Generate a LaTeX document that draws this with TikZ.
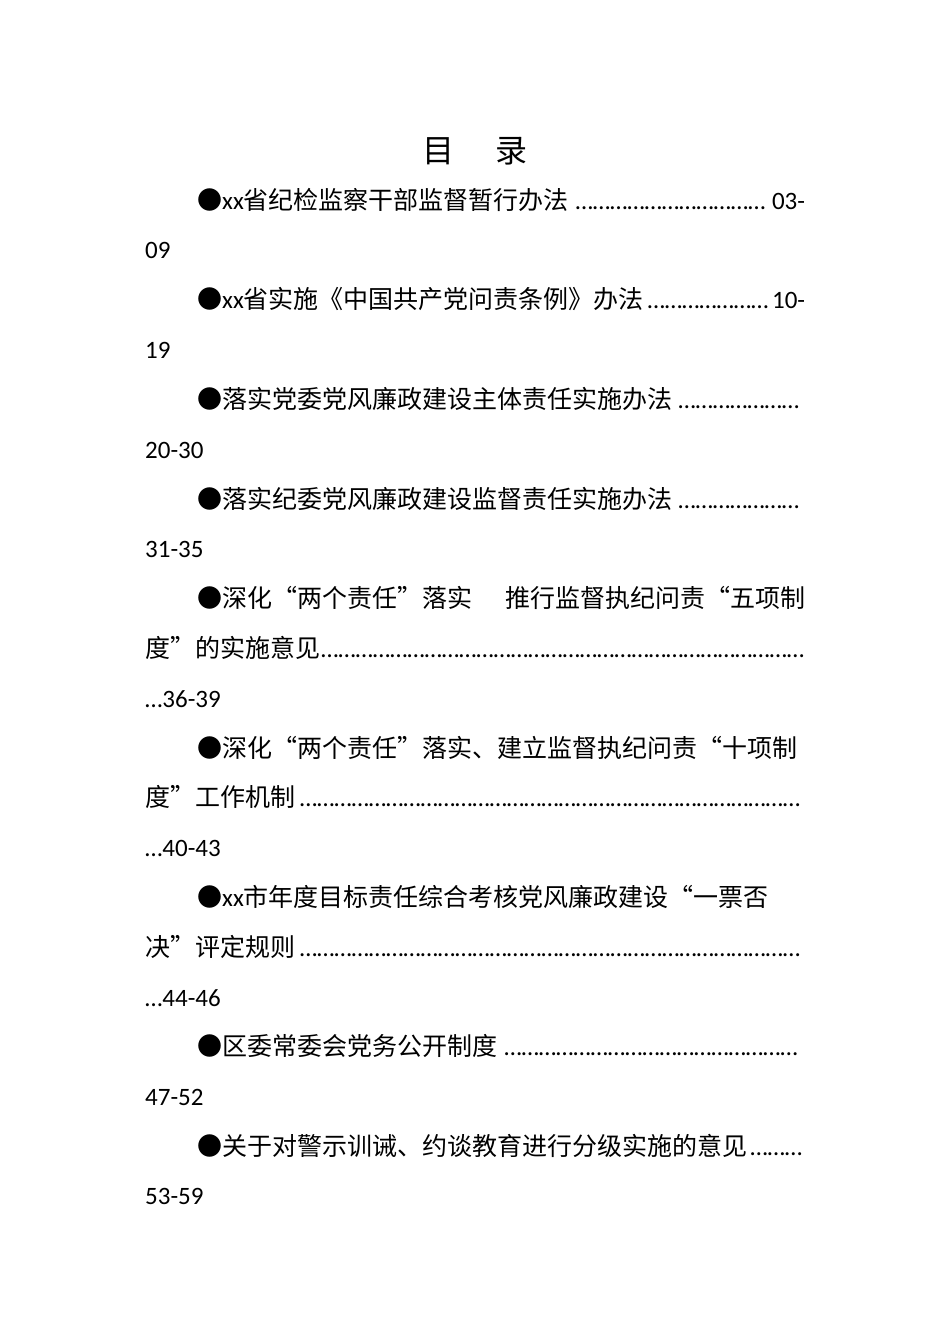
\documentclass[tikz,border=0pt]{standalone}
\usepackage{fontspec}
\setmainfont{Noto Sans CJK SC}
\newfontfamily\lat{Carlito}
\newcommand{\La}[1]{{\lat #1}}
\newcommand{\dts}{\cleaders\hbox{\lat …}\hfill}
\begin{document}
\begin{tikzpicture}[x=1pt,y=-1pt,
  ln/.style={anchor=base west,inner sep=0pt,font=\fontsize{25}{25}\selectfont}]
\useasboundingbox (0,0) rectangle (950,1344);
\fill[white] (0,0) rectangle (950,1344);
\node[anchor=base,inner sep=0pt,font=\fontsize{32}{32}\selectfont] (t) at (475,162) {目\hspace{1.3em}录};
\def\W{608pt}
\def\WW{660pt}
\node[ln] (a1) at (197,209) {\hbox to \W{●\La{xx}省纪检监察干部监督暂行办法\dts\La{03-}}};
\node[ln] (a2) at (145,258) {\La{09}};
\node[ln] (b1) at (197,308) {\hbox to \W{●\La{xx}省实施《中国共产党问责条例》办法\dts\La{10-}}};
\node[ln] (b2) at (145,358) {\La{19}};
\node[ln] (c1) at (197,408) {\hbox to \W{●落实党委党风廉政建设主体责任实施办法\dts}};
\node[ln] (c2) at (145,458) {\La{20-30}};
\node[ln] (d1) at (197,508) {\hbox to \W{●落实纪委党风廉政建设监督责任实施办法\dts}};
\node[ln] (d2) at (145,557) {\La{31-35}};
\node[ln] (e1) at (197,607) {\hbox to \W{●深化“两个责任”落实\hfill 推行监督执纪问责“五项制}};
\node[ln] (e2) at (145,657) {\hbox to \WW{度”的实施意见\dts}};
\node[ln] (e3) at (145,707) {\La{…36-39}};
\node[ln] (f1) at (197,757) {\hbox to \W{●深化“两个责任”落实、建立监督执纪问责“十项制}};
\node[ln] (f2) at (145,806) {\hbox to \WW{度”工作机制\dts}};
\node[ln] (f3) at (145,856) {\La{…40-43}};
\node[ln] (g1) at (197,906) {\hbox to \W{●\La{xx}市年度目标责任综合考核党风廉政建设“一票否}};
\node[ln] (g2) at (145,956) {\hbox to \WW{决”评定规则\dts}};
\node[ln] (g3) at (145,1006) {\La{…44-46}};
\node[ln] (h1) at (197,1055) {\hbox to \W{●区委常委会党务公开制度\dts}};
\node[ln] (h2) at (145,1105) {\La{47-52}};
\node[ln] (i1) at (197,1155) {\hbox to \W{●关于对警示训诫、约谈教育进行分级实施的意见\dts}};
\node[ln] (i2) at (145,1204) {\La{53-59}};
\end{tikzpicture}
\end{document}
